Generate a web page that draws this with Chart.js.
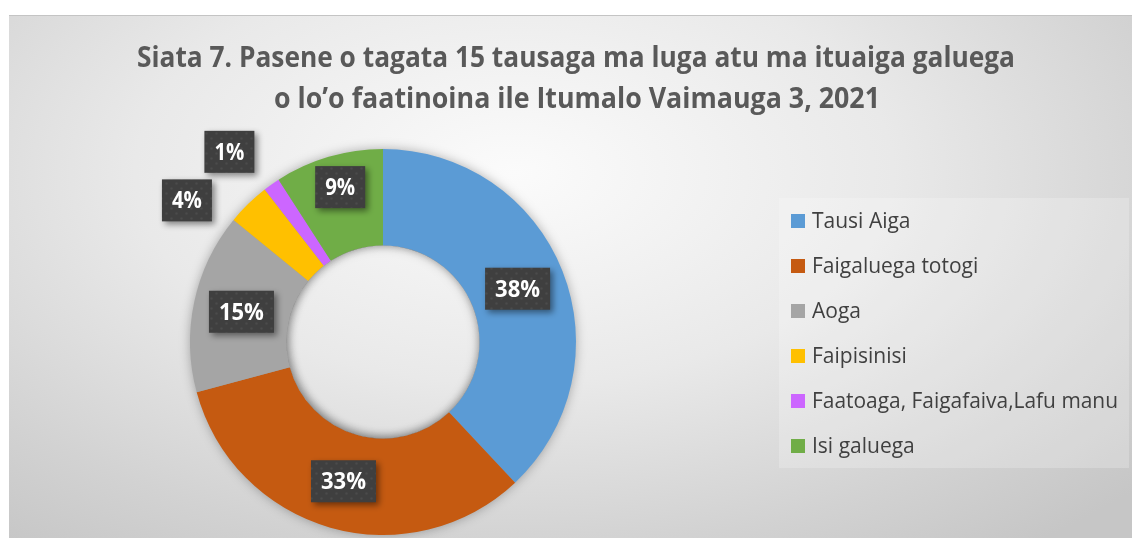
<!DOCTYPE html>
<html>
<head>
<meta charset="utf-8">
<script src="https://cdn.jsdelivr.net/npm/chart.js@4.4.1/dist/chart.umd.min.js"></script>
<style>
  html, body { margin: 0; padding: 0; background: #fff; }
  #wrap {
    position: absolute; left: 9px; top: 15px; width: 1123px; height: 523px;
    border-top: 1px solid #c4c4c4;
    box-sizing: border-box;
    background: radial-gradient(ellipse 75% 90% at 45% 30%, #fbfbfb 0%, #e9e9e9 45%, #d2d2d2 80%, #c6c6c6 100%);
  }
  canvas { display: block; }
</style>
</head>
<body>
<div id="wrap"><canvas id="pie" width="1123" height="522"></canvas></div>
<script>
const titleLines = ['Siata 7. Pasene o tagata 15 tausaga ma luga atu ma ituaiga galuega',
    'o lo\u2019o faatinoina ile Itumalo Vaimauga 3, 2021'];
const categories = ['Tausi Aiga', 'Faigaluega totogi', 'Aoga', 'Faipisinisi',
    'Faatoaga, Faigafaiva,Lafu manu', 'Isi galuega'];
const percents = [38.0, 32.8, 15.1, 3.6, 1.4, 9.1];
const colors = ['#5B9BD5', '#C55A11', '#A5A5A5', '#FFC000', '#CC66FF', '#70AD47'];

// dark dotted fill used by the data label boxes
function makePattern(ctx) {
    const c = document.createElement('canvas');
    c.width = 10; c.height = 10;
    const p = c.getContext('2d');
    p.fillStyle = '#3f3f3f';
    p.fillRect(0, 0, 10, 10);
    p.fillStyle = '#4b4b4b';
    p.beginPath(); p.arc(2.5, 2.5, 1.3, 0, Math.PI * 2); p.fill();
    p.beginPath(); p.arc(7.5, 7.5, 1.3, 0, Math.PI * 2); p.fill();
    return ctx.createPattern(c, 'repeat');
}

const ringShadow = {
    id: 'ringShadow',
    beforeDatasetsDraw(chart) {
        const arc = chart.getDatasetMeta(0).data[0];
        const ctx = chart.ctx;
        ctx.save();
        ctx.shadowColor = 'rgba(0,0,0,0.35)';
        ctx.shadowBlur = 12;
        ctx.fillStyle = '#999';
        ctx.beginPath();
        ctx.arc(arc.x, arc.y, arc.outerRadius - 1, 0, Math.PI * 2);
        ctx.arc(arc.x, arc.y, arc.innerRadius + 1, 0, Math.PI * 2, true);
        ctx.fill();
        ctx.restore();
    },
    afterDatasetsDraw(chart) {
        // soft inner shadow in the hole
        const arc = chart.getDatasetMeta(0).data[0];
        const ctx = chart.ctx;
        ctx.save();
        ctx.beginPath();
        ctx.arc(arc.x, arc.y, arc.innerRadius, 0, Math.PI * 2);
        ctx.clip();
        ctx.shadowColor = 'rgba(0,0,0,0.3)';
        ctx.shadowBlur = 10;
        ctx.shadowOffsetX = 2;
        ctx.shadowOffsetY = -2;
        ctx.lineWidth = 20;
        ctx.strokeStyle = '#888';
        ctx.beginPath();
        ctx.arc(arc.x, arc.y, arc.innerRadius + 10, 0, Math.PI * 2);
        ctx.stroke();
        ctx.restore();
    }
};

const headerAndLegend = {
    id: 'headerAndLegend',
    afterDraw(chart) {
        const ctx = chart.ctx;
        ctx.save();
        // title
        ctx.fillStyle = '#595959';
        ctx.font = 'bold 28px "Open Sans"';
        ctx.textAlign = 'center';
        ctx.textBaseline = 'alphabetic';
        ctx.fillText(titleLines[0], 567, 51, 878);
        ctx.fillText(titleLines[1], 568, 92, 606);

        // legend box
        ctx.fillStyle = 'rgba(255,255,255,0.22)';
        ctx.fillRect(770, 182, 350, 270);
        ctx.textAlign = 'left';
        ctx.textBaseline = 'middle';
        ctx.font = '21px "Open Sans"';
        chart.data.labels.forEach((lab, i) => {
            const y = 205 + i * 45;
            ctx.fillStyle = colors[i];
            ctx.fillRect(782, y - 7, 14, 14);
            ctx.fillStyle = '#404040';
            ctx.fillText(lab, 803, y + 1, 306);
        });
        ctx.restore();
    }
};

const boxLabels = {
    id: 'boxLabels',
    afterDatasetsDraw(chart, args, opts) {
        const ctx = chart.ctx;
        const pattern = makePattern(ctx);
        const meta = chart.getDatasetMeta(0);
        const data = chart.data.datasets[0].data;
        ctx.save();
        ctx.font = 'bold 24px "Open Sans"';
        ctx.textAlign = 'center';
        ctx.textBaseline = 'middle';
        meta.data.forEach((arc, i) => {
            const pos = arc.tooltipPosition();
            const shift = opts.shift[i] || [0, 0];
            const x = pos.x + shift[0];
            const y = pos.y + shift[1];
            const txt = Math.round(data[i]) + '%';
            const tw = Math.min(ctx.measureText(txt).width, txt.length * 15);
            const w = tw + 20, h = 42;
            ctx.save();
            ctx.shadowColor = 'rgba(0,0,0,0.45)';
            ctx.shadowBlur = 6;
            ctx.shadowOffsetX = 3;
            ctx.shadowOffsetY = 3;
            ctx.fillStyle = pattern;
            ctx.fillRect(x - w / 2, y - h / 2, w, h);
            ctx.restore();
            ctx.fillStyle = '#ffffff';
            ctx.fillText(txt, x, y + 1, tw);
        });
        ctx.restore();
    }
};

new Chart(document.getElementById('pie'), {
    type: 'doughnut',
    data: {
        labels: categories,
        datasets: [{
            data: percents,
            backgroundColor: colors,
            borderWidth: 0
        }]
    },
    options: {
        responsive: false,
        animation: false,
        cutout: '50%',
        layout: { padding: { left: 181, right: 556, top: 133, bottom: 3 } },
        plugins: {
            legend: { display: false },
            title: { display: false },
            tooltip: { enabled: false },
            boxLabels: { shift: { 3: [-95, -38], 4: [-70, -72], 5: [-2, -16] } }
        }
    },
    plugins: [ringShadow, boxLabels, headerAndLegend]
});
</script>
</body>
</html>
